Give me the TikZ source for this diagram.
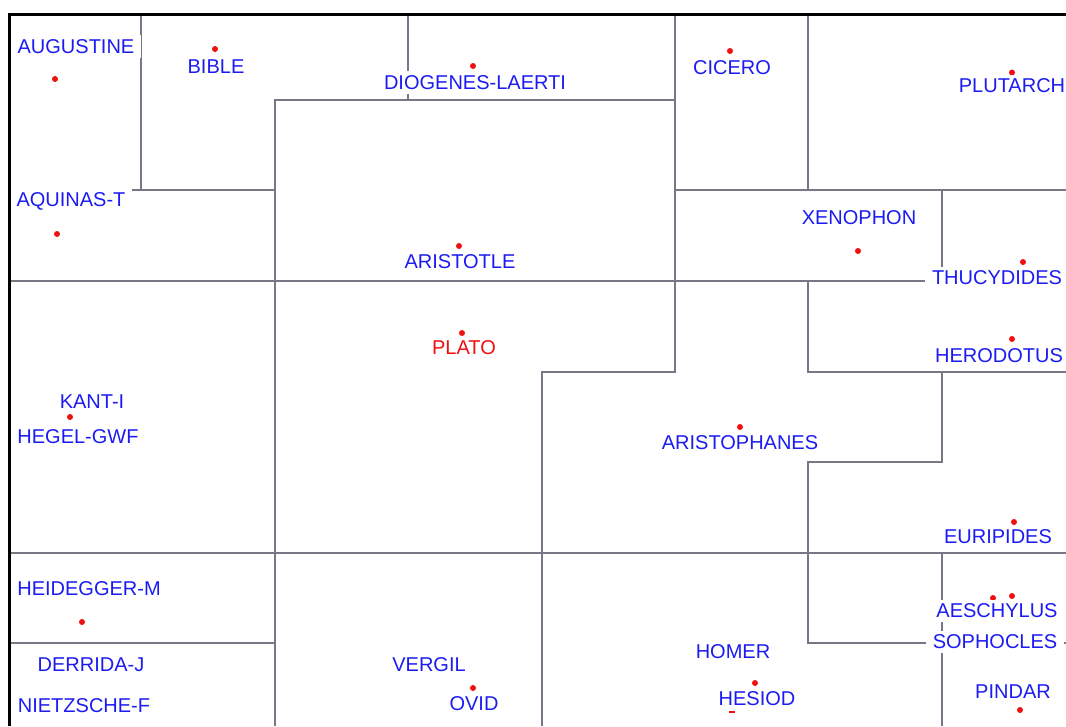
\documentclass[tikz,border=0pt]{standalone}
\usepackage{fontspec}
\setmainfont{Liberation Sans}
\usepackage{xcolor}
\definecolor{cellgrey}{HTML}{777785}
\definecolor{labelblue}{HTML}{1C1CF2}
\definecolor{seedred}{HTML}{F01010}

\begin{document}
\begin{tikzpicture}[x=1pt, y=-1pt,
    cellLine/.style={draw=cellgrey, line width=2pt},
    frameLine/.style={draw=black, line width=3pt},
    nameLabel/.style={rectangle, fill=white, text=labelblue, font=\fontsize{20}{24}\selectfont, inner xsep=7pt, inner ysep=4pt},
    focusLabel/.style={nameLabel, text=seedred},
    seedDot/.style={fill=seedred}
]
    \useasboundingbox (0,0) rectangle (1066,726);

    % Cell borders
    \draw[cellLine] (141,14) -- (141,190);
    \draw[cellLine] (9,190) -- (275,190);
    \draw[cellLine] (408,14) -- (408,100);
    \draw[cellLine] (275,726) -- (275,100) -- (675,100);
    \draw[cellLine] (675,14) -- (675,372) -- (542,372) -- (542,726);
    \draw[cellLine] (808,14) -- (808,190);
    \draw[cellLine] (675,190) -- (1066,190);
    \draw[cellLine] (942,190) -- (942,281);
    \draw[cellLine] (9,281) -- (1066,281);
    \draw[cellLine] (808,281) -- (808,372) -- (1066,372);
    \draw[cellLine] (942,372) -- (942,462) -- (808,462) -- (808,643) -- (1066,643);
    \draw[cellLine] (9,553) -- (1066,553);
    \draw[cellLine] (9,643) -- (275,643);
    \draw[cellLine] (942,553) -- (942,726);

    % Seeds
    \fill[seedDot] (55,79) circle (3);
    \fill[seedDot] (215,49) circle (3);
    \fill[seedDot] (473,66) circle (3);
    \fill[seedDot] (730,51) circle (3);
    \fill[seedDot] (1012,72.5) circle (3);
    \fill[seedDot] (57,234) circle (3);
    \fill[seedDot] (459,246) circle (3);
    \fill[seedDot] (858,251) circle (3);
    \fill[seedDot] (1023,262) circle (3);
    \fill[seedDot] (70,417) circle (3);
    \fill[seedDot] (462,333) circle (3);
    \fill[seedDot] (740,427) circle (3);
    \fill[seedDot] (1012,339) circle (3);
    \fill[seedDot] (1014,522) circle (3);
    \fill[seedDot] (82,622) circle (3);
    \fill[seedDot] (473,688) circle (3);
    \fill[seedDot] (755,683) circle (3);
    \fill[seedDot] (729,710.5) rectangle (735,713);
    \fill[seedDot] (993,598) circle (3);
    \fill[seedDot] (1012,596) circle (3);
    \fill[seedDot] (1020,710) circle (3);

    % Names
    \node[nameLabel] (augustine) at (76,46.5) {AUGUSTINE};
    \node[nameLabel] (bible) at (216,66.5) {BIBLE};
    \node[nameLabel] (diogenes) at (475,82.5) {DIOGENES-LAERTI};
    \node[nameLabel] (cicero) at (732,68) {CICERO};
    \node[nameLabel] (plutarch) at (1012,86) {PLUTARCH};
    \node[nameLabel, inner ysep=6pt] (aquinas) at (71,201) {AQUINAS-T};
    \node[nameLabel] (aristotle) at (460,262) {ARISTOTLE};
    \node[nameLabel] (xenophon) at (859,218) {XENOPHON};
    \node[nameLabel] (thucydides) at (997,278) {THUCYDIDES};
    \node[nameLabel] (kant) at (92,402) {KANT-I};
    \node[nameLabel] (hegel) at (78,437) {HEGEL-GWF};
    \node[focusLabel] (plato) at (464,348) {PLATO};
    \node[nameLabel] (aristophanes) at (740,443) {ARISTOPHANES};
    \node[nameLabel] (herodotus) at (999,356) {HERODOTUS};
    \node[nameLabel] (euripides) at (998,537) {EURIPIDES};
    \node[nameLabel] (heidegger) at (89,589) {HEIDEGGER-M};
    \node[nameLabel] (derrida) at (91,665) {DERRIDA-J};
    \node[nameLabel] (nietzsche) at (84,706) {NIETZSCHE-F};
    \node[nameLabel] (vergil) at (429,665) {VERGIL};
    \node[nameLabel] (ovid) at (474,704) {OVID};
    \node[nameLabel] (homer) at (733,652) {HOMER};
    \node[nameLabel] (hesiod) at (757,699) {HESIOD};
    \node[nameLabel] (aeschylus) at (997,611) {AESCHYLUS};
    \node[nameLabel] (sophocles) at (995,642) {SOPHOCLES};
    \node[nameLabel] (pindar) at (1013,692) {PINDAR};

    % Frame
    \draw[frameLine] (9,726) -- (9,14) -- (1066,14);

\end{tikzpicture}
\end{document}
